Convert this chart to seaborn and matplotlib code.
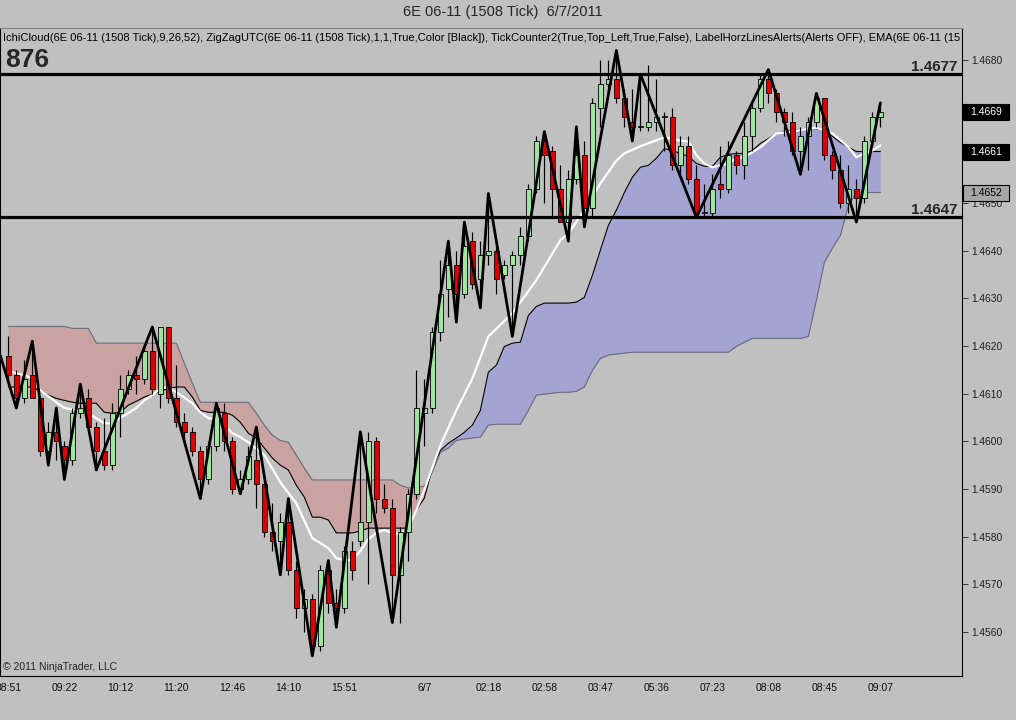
import numpy as np
import matplotlib
matplotlib.use("Agg")
import matplotlib.pyplot as plt
import matplotlib.transforms as mtransforms
from matplotlib.patches import Rectangle
import seaborn as sns

# ---------------- data ----------------
opens = [1.4618, 1.4614, 1.4609, 1.4614, 1.4609, 1.4598, 1.4602, 1.4599, 1.4596, 1.4606,
         1.4609, 1.4603, 1.4598, 1.4595, 1.4606, 1.4611, 1.4614, 1.4613, 1.4619, 1.4610,
         1.4624, 1.4609, 1.4604, 1.4602, 1.4598, 1.4592, 1.4599, 1.4606, 1.4600, 1.4590,
         1.4592, 1.4596, 1.4591, 1.4581, 1.4579, 1.4583, 1.4573, 1.4565, 1.4567, 1.4557,
         1.4573, 1.4566, 1.4565, 1.4577, 1.4579, 1.4583, 1.4600, 1.4588, 1.4586, 1.4572,
         1.4581, 1.4589, 1.4606, 1.4607, 1.4623, 1.4632, 1.4637, 1.4631, 1.4642, 1.4634,
         1.4639, 1.4640, 1.4635, 1.4637, 1.4639, 1.4643, 1.4653, 1.4663, 1.4661, 1.4653,
         1.4646, 1.4655, 1.4660, 1.4649, 1.4670, 1.4675, 1.4676, 1.4672, 1.4667, 1.4666,
         1.4666, 1.4667, 1.4668, 1.4668, 1.4658, 1.4662, 1.4655, 1.4648, 1.4648, 1.4654,
         1.4653, 1.4660, 1.4658, 1.4664, 1.4670, 1.4676, 1.4673, 1.4669, 1.4667, 1.4661,
         1.4664, 1.4667, 1.4672, 1.4660, 1.4657, 1.4650, 1.4653, 1.4651, 1.4663, 1.4668]
highs = [1.4622, 1.4615, 1.4617, 1.4621, 1.4609, 1.4604, 1.4607, 1.4600, 1.4607, 1.4612,
         1.4611, 1.4604, 1.4605, 1.4608, 1.4614, 1.4615, 1.4618, 1.4620, 1.4624, 1.4624,
         1.4624, 1.4616, 1.4606, 1.4603, 1.4599, 1.4600, 1.4608, 1.4608, 1.4601, 1.4594,
         1.4599, 1.4603, 1.4592, 1.4587, 1.4585, 1.4588, 1.4575, 1.4569, 1.4568, 1.4574,
         1.4575, 1.4569, 1.4578, 1.4579, 1.4602, 1.4602, 1.4601, 1.4591, 1.4588, 1.4582,
         1.4590, 1.4615, 1.4613, 1.4624, 1.4638, 1.4642, 1.4640, 1.4646, 1.4644, 1.4642,
         1.4652, 1.4641, 1.4638, 1.4640, 1.4645, 1.4654, 1.4664, 1.4665, 1.4662, 1.4658,
         1.4657, 1.4666, 1.4663, 1.4672, 1.4680, 1.4680, 1.4682, 1.4674, 1.4674, 1.4677,
         1.4679, 1.4676, 1.4669, 1.4670, 1.4664, 1.4664, 1.4658, 1.4654, 1.4656, 1.4662,
         1.4663, 1.4661, 1.4667, 1.4671, 1.4677, 1.4678, 1.4674, 1.4670, 1.4669, 1.4666,
         1.4668, 1.4673, 1.4672, 1.4661, 1.4660, 1.4658, 1.4655, 1.4664, 1.4669, 1.4671]
lows = [1.4613, 1.4607, 1.4608, 1.4609, 1.4597, 1.4595, 1.4596, 1.4592, 1.4595, 1.4605,
        1.4602, 1.4594, 1.4594, 1.4594, 1.4601, 1.4610, 1.4610, 1.4612, 1.4610, 1.4607,
        1.4608, 1.4603, 1.4600, 1.4597, 1.4588, 1.4591, 1.4598, 1.4598, 1.4589, 1.4589,
        1.4591, 1.4586, 1.4580, 1.4577, 1.4572, 1.4572, 1.4563, 1.4560, 1.4555, 1.4556,
        1.4564, 1.4561, 1.4564, 1.4571, 1.4578, 1.4570, 1.4585, 1.4585, 1.4562, 1.4562,
        1.4575, 1.4588, 1.4599, 1.4606, 1.4621, 1.4626, 1.4625, 1.4630, 1.4632, 1.4628,
        1.4637, 1.4631, 1.4634, 1.4622, 1.4637, 1.4642, 1.4652, 1.4650, 1.4647, 1.4646,
        1.4642, 1.4654, 1.4645, 1.4647, 1.4666, 1.4673, 1.4671, 1.4666, 1.4663, 1.4665,
        1.4665, 1.4665, 1.4661, 1.4657, 1.4656, 1.4654, 1.4647, 1.4647, 1.4647, 1.4651,
        1.4652, 1.4656, 1.4655, 1.4661, 1.4669, 1.4671, 1.4667, 1.4664, 1.4660, 1.4656,
        1.4657, 1.4666, 1.4659, 1.4655, 1.4649, 1.4648, 1.4646, 1.4650, 1.4662, 1.4666]
closes = [1.4614, 1.4609, 1.4613, 1.4609, 1.4598, 1.4602, 1.4600, 1.4596, 1.4606, 1.4607,
          1.4603, 1.4598, 1.4595, 1.4606, 1.4611, 1.4614, 1.4613, 1.4619, 1.4611, 1.4624,
          1.4609, 1.4604, 1.4602, 1.4598, 1.4592, 1.4599, 1.4607, 1.4600, 1.4590, 1.4592,
          1.4597, 1.4591, 1.4581, 1.4579, 1.4583, 1.4573, 1.4565, 1.4567, 1.4557, 1.4573,
          1.4566, 1.4565, 1.4577, 1.4573, 1.4583, 1.4600, 1.4588, 1.4586, 1.4572, 1.4581,
          1.4589, 1.4607, 1.4607, 1.4623, 1.4631, 1.4637, 1.4631, 1.4641, 1.4633, 1.4639,
          1.4640, 1.4634, 1.4637, 1.4639, 1.4643, 1.4653, 1.4663, 1.4660, 1.4653, 1.4646,
          1.4655, 1.4660, 1.4649, 1.4671, 1.4675, 1.4676, 1.4672, 1.4668, 1.4666, 1.4666,
          1.4667, 1.4668, 1.4668, 1.4658, 1.4662, 1.4655, 1.4648, 1.4648, 1.4653, 1.4653,
          1.4660, 1.4658, 1.4664, 1.4670, 1.4676, 1.4673, 1.4669, 1.4667, 1.4661, 1.4664,
          1.4667, 1.4672, 1.4660, 1.4657, 1.4650, 1.4653, 1.4651, 1.4663, 1.4668, 1.4669]

# Ichimoku cloud spans
span_a = [1.46114, 1.46114, 1.46114, 1.46114, 1.46105, 1.46097, 1.46090, 1.46086, 1.46082, 1.46080,
          1.46080, 1.46080, 1.46061, 1.46059, 1.46061, 1.46076, 1.46084, 1.46093, 1.46099, 1.46105,
          1.46111, 1.46114, 1.46114, 1.46093, 1.46065, 1.46061, 1.46061, 1.46061, 1.46055, 1.46040,
          1.46017, 1.46007, 1.45986, 1.45965, 1.45950, 1.45940, 1.45908, 1.45883, 1.45841, 1.45841,
          1.45835, 1.45808, 1.45808, 1.45808, 1.45812, 1.45818, 1.45818, 1.45818, 1.45818, 1.45818,
          1.45818, 1.45856, 1.45881, 1.45944, 1.45981, 1.45996, 1.46007, 1.46019, 1.46034, 1.46065,
          1.46145, 1.46160, 1.46199, 1.46206, 1.46208, 1.46264, 1.46283, 1.46290, 1.46290, 1.46290,
          1.46290, 1.46292, 1.46302, 1.46348, 1.46401, 1.46453, 1.46485, 1.46522, 1.46554, 1.46575,
          1.46579, 1.46594, 1.46614, 1.46610, 1.46604, 1.46598, 1.46583, 1.46577, 1.46577, 1.46596,
          1.46602, 1.46604, 1.46604, 1.46610, 1.46625, 1.46635, 1.46646, 1.46650, 1.46652, 1.46654,
          1.46656, 1.46656, 1.46652, 1.46640, 1.46627, 1.46617, 1.46608, 1.46608, 1.46608, 1.46608]
span_b = [1.46241, 1.46241, 1.46241, 1.46241, 1.46241, 1.46241, 1.46241, 1.46241, 1.46237, 1.46237,
          1.46237, 1.46206, 1.46206, 1.46206, 1.46206, 1.46206, 1.46206, 1.46206, 1.46206, 1.46206,
          1.46206, 1.46206, 1.46164, 1.46122, 1.46082, 1.46082, 1.46082, 1.46082, 1.46082, 1.46082,
          1.46082, 1.46059, 1.46034, 1.46013, 1.46002, 1.45998, 1.45971, 1.45944, 1.45919, 1.45919,
          1.45919, 1.45919, 1.45919, 1.45919, 1.45919, 1.45919, 1.45919, 1.45919, 1.45919, 1.45908,
          1.45902, 1.45904, 1.45906, 1.45935, 1.45977, 1.45986, 1.46002, 1.46005, 1.46007, 1.46009,
          1.46034, 1.46036, 1.46036, 1.46036, 1.46036, 1.46065, 1.46097, 1.46099, 1.46101, 1.46103,
          1.46103, 1.46105, 1.46114, 1.46149, 1.46174, 1.46181, 1.46183, 1.46185, 1.46187, 1.46187,
          1.46187, 1.46187, 1.46187, 1.46187, 1.46187, 1.46187, 1.46187, 1.46187, 1.46187, 1.46187,
          1.46187, 1.46199, 1.46208, 1.46216, 1.46216, 1.46216, 1.46216, 1.46216, 1.46216, 1.46216,
          1.46220, 1.46296, 1.46376, 1.46405, 1.46432, 1.46495, 1.46522, 1.46522, 1.46522, 1.46522]

# EMA (white line), sampled at bar indices
ema_idx = [0, 2, 3, 4, 6, 7, 8, 10, 12, 13, 14, 16, 17, 18, 19, 20, 21, 23, 24, 25,
           26, 27, 28, 29, 30, 32, 34, 36, 38, 40, 41, 42, 43, 44, 45, 46, 47, 48, 49, 50,
           51, 52, 54, 56, 58, 60, 63, 66, 69, 70, 72, 74, 76, 77, 79, 82, 84, 85, 86, 87,
           88, 89, 90, 91, 92, 94, 96, 98, 100, 101, 103, 104, 105, 106, 107, 108, 109]
ema_val = [1.46147, 1.46139, 1.46132, 1.46107, 1.46082, 1.46070, 1.46067, 1.46059, 1.46038, 1.46038,
           1.46049, 1.46070, 1.46086, 1.46097, 1.46111, 1.46114, 1.46103, 1.46080, 1.46061, 1.46049,
           1.46046, 1.46034, 1.46017, 1.46009, 1.45998, 1.45971, 1.45914, 1.45870, 1.45797, 1.45776,
           1.45755, 1.45751, 1.45751, 1.45770, 1.45795, 1.45808, 1.45814, 1.45808, 1.45805, 1.45818,
           1.45856, 1.45898, 1.45992, 1.46065, 1.46132, 1.46220, 1.46269, 1.46338, 1.46422, 1.46436,
           1.46485, 1.46541, 1.46589, 1.46604, 1.46619, 1.46638, 1.46631, 1.46629, 1.46600, 1.46583,
           1.46575, 1.46579, 1.46583, 1.46594, 1.46596, 1.46617, 1.46646, 1.46650, 1.46656, 1.46658,
           1.46646, 1.46632, 1.46617, 1.46596, 1.46604, 1.46610, 1.46621]

# ZigZag pivots
zz_idx = [-1, 1, 3, 5, 6, 7, 9, 11, 18, 24, 26, 29, 31, 34, 35, 38, 40, 41, 44, 48,
          55, 56, 57, 59, 60, 63, 67, 70, 71, 72, 76, 78, 79, 86, 95, 99, 101, 106, 109]
zz_val = [1.4618, 1.4607, 1.4621, 1.4595, 1.4607, 1.4592, 1.4612, 1.4594, 1.4624, 1.4588,
          1.4608, 1.4589, 1.4603, 1.4572, 1.4588, 1.4555, 1.4575, 1.4561, 1.4602, 1.4562,
          1.4642, 1.4625, 1.4646, 1.4628, 1.4652, 1.4622, 1.4665, 1.4642, 1.4666, 1.4645,
          1.4682, 1.4663, 1.4677, 1.4647, 1.4678, 1.4656, 1.4673, 1.4646, 1.4671]

h_levels = [1.4677, 1.4647]
y_ticks = [1.4560, 1.4570, 1.4580, 1.4590, 1.4600, 1.4610, 1.4620,
           1.4630, 1.4640, 1.4650, 1.4660, 1.4670, 1.4680]
# labels hidden behind the price markers in the reference are left blank
y_tick_lbl = ["1.4560", "1.4570", "1.4580", "1.4590", "1.4600", "1.4610", "1.4620",
              "1.4630", "1.4640", "1.4650", "", "", "1.4680"]
x_tick_idx = [0, 7, 14, 21, 28, 35, 42, 52, 60, 67, 74, 81, 88, 95, 102, 109]
x_tick_lbl = ["08:51", "09:22", "10:12", "11:20", "12:46", "14:10", "15:51", "6/7",
              "02:18", "02:58", "03:47", "05:36", "07:23", "08:08", "08:45", "09:07"]
title = "6E 06-11 (1508 Tick)  6/7/2011"
# the visible part of the indicator list (the chart cuts it at the right edge)
indicators = ("IchiCloud(6E 06-11 (1508 Tick),9,26,52), ZigZagUTC(6E 06-11 (1508 Tick),1,1,True,"
              "Color [Black]), TickCounter2(True,Top_Left,True,False), LabelHorzLinesAlerts(Alerts OFF), "
              "EMA(6E 06-11 (15")
tick_count = "876"

# ---------------- styling ----------------
sns.set_style("white")
plt.rcParams["font.family"] = ["Liberation Sans", "DejaVu Sans"]

BG = "#c0c0c0"
RED_CLOUD = "#c9a2a2"
BLUE_CLOUD = "#a4a4d3"
UP = "#9fe59f"
DOWN = "#e00000"

W, H = 1016, 720
fig = plt.figure(figsize=(W / 100, H / 100), dpi=100, facecolor=BG)
ax = fig.add_axes([0.0, 44 / H, 962 / W, 648 / H])
ax.set_facecolor(BG)

n = len(opens)
idx = np.arange(n)
sa = np.array(span_a)
sb = np.array(span_b)
o = np.array(opens); c = np.array(closes); hi = np.array(highs); lo = np.array(lows)

# cloud
ax.fill_between(idx, sa, sb, where=sb >= sa, interpolate=True, color=RED_CLOUD, lw=0, zorder=1)
ax.fill_between(idx, sa, sb, where=sa >= sb, interpolate=True, color=BLUE_CLOUD, lw=0, zorder=1)
sns.lineplot(x=idx, y=sb, color="#6e6a7a", lw=0.8, ax=ax, zorder=2)
sns.lineplot(x=idx, y=sa, color="black", lw=0.8, ax=ax, zorder=2)

# EMA
sns.lineplot(x=ema_idx, y=ema_val, color="white", lw=1.6, ax=ax, zorder=3)

# candles
ax.vlines(idx, lo, hi, color="black", lw=0.85, zorder=4)
up = c >= o
body_bot = np.minimum(o, c)
body_h = np.maximum(np.abs(c - o), 0.00002)
ax.bar(idx, body_h, bottom=body_bot, width=0.68,
       color=[UP if u else DOWN for u in up], edgecolor="black", lw=0.6, zorder=5)

# zigzag
sns.lineplot(x=zz_idx, y=zz_val, color="black", lw=2.0, ax=ax, zorder=6)

# horizontal lines with labels
blend = mtransforms.blended_transform_factory(ax.transAxes, ax.transData)
for lvl in h_levels:
    ax.axhline(lvl, color="black", lw=2.3, zorder=7)
    ax.annotate(f"{lvl:.4f}", xy=(1.0, lvl), xycoords=blend, xytext=(-3, 2.6),
                textcoords="offset points", ha="right", va="baseline",
                fontsize=11, fontweight="bold", zorder=8)

# axes limits / ticks
ax.set_xlim(-1.04, 119.2)
ax.set_ylim(1.455078, 1.468671)
ax.set_xlabel(""); ax.set_ylabel("")
ax.yaxis.tick_right()
ax.set_yticks(y_ticks)
ax.set_yticklabels(y_tick_lbl)
ax.tick_params(axis="y", labelsize=7.4, length=4, width=0.6, pad=3, colors="#202020", left=False, right=True)
ax.set_xticks(x_tick_idx)
ax.set_xticklabels(x_tick_lbl)
ax.tick_params(axis="x", labelsize=7.5, length=3, width=0.6, pad=2, colors="#101010")
for s in ax.spines.values():
    s.set_color("black")
    s.set_linewidth(0.8)
    s.set_visible(True)
ax.spines["top"].set_color("#808080")

# texts
t = ax.text(3 / 962, (676 - 38) / 648, indicators, transform=ax.transAxes, fontsize=8.0,
            ha="left", va="center", color="black", zorder=9)
t.set_clip_on(True)
t.set_clip_path(ax.patch)
ax.text(5 / 962, (676 - 60) / 648, tick_count, transform=ax.transAxes, fontsize=19,
        fontweight="bold", ha="left", va="center", zorder=9)
ax.text(3 / 962, (676 - 667) / 648, "\u00a9 2011 NinjaTrader, LLC", transform=ax.transAxes,
        fontsize=7.5, ha="left", va="center", zorder=9)
fig.text(503 / W, 1 - 12 / H, title, ha="center", va="center", fontsize=10.5)

# right-hand price markers
fig.canvas.draw()
markers = [(closes[-1], "black", "white"), (span_a[-1], "black", "white"), (span_b[-1], "#a6a6a6", "black")]
for val, fc, tc in markers:
    ypx = ax.transData.transform((0, val))[1]
    fig.patches.append(Rectangle((963 / W, (ypx - 8) / H), 46 / W, 16 / H, transform=fig.transFigure,
                                 facecolor=fc, edgecolor="black", lw=0.8, zorder=10))
    fig.text(986 / W, ypx / H, f"{val:.4f}", ha="center", va="center", fontsize=7.5, color=tc, zorder=11)

fig.savefig("out.png", dpi=100, facecolor=BG)
